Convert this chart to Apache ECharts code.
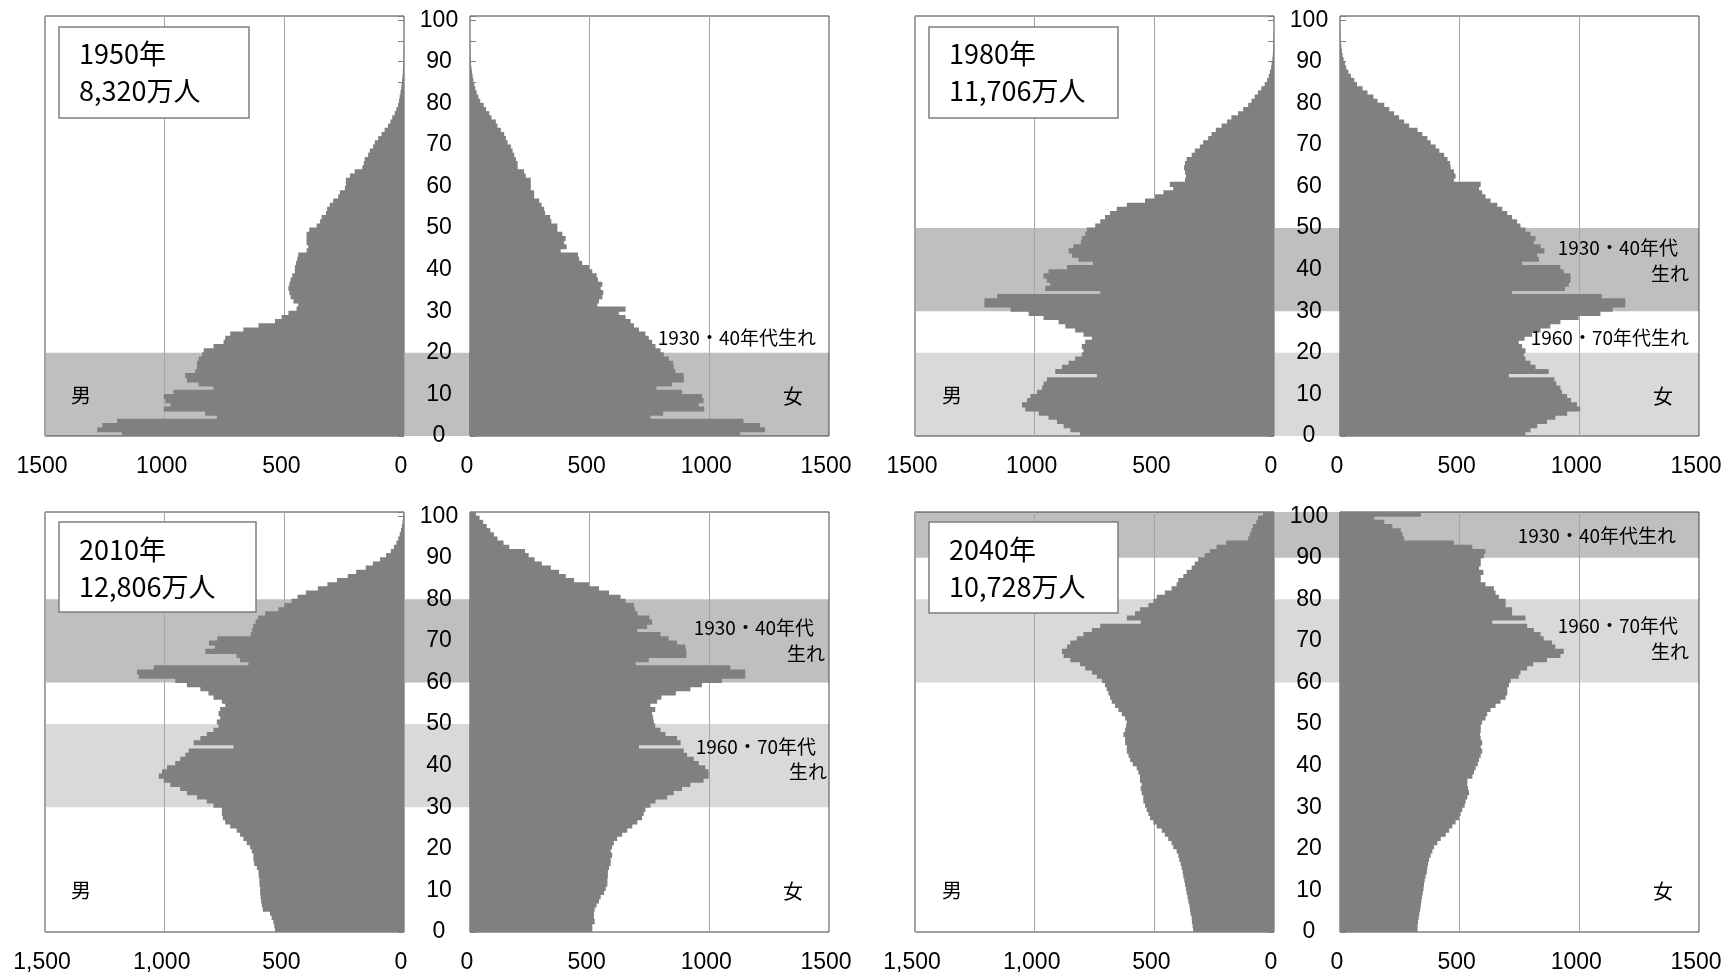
<!DOCTYPE html>
<html><head><meta charset="utf-8">
<script src="https://cdn.jsdelivr.net/npm/echarts@6/dist/echarts.min.js"></script>
<style>html,body{margin:0;padding:0;background:#fff}#c{width:1735px;height:974px}</style>
</head><body><div id="c"></div>
<script>
// ---------------- DATA ----------------
const ages = Array.from({length: 101}, (_, i) => String(i)); // 0..100 (100 = 100+)
const years = ['1950年', '1980年', '2010年', '2040年'];
const totals = ['8,320万人', '11,706万人', '12,806万人', '10,728万人'];

const male1950 = [1178,1282,1261,1199,782,831,1004,976,997,1004, 963,796,858,907,914,872,865,865,858,844, 837,796,754,747,726,671,608,539,511,483, 449,442,462,474,479,483,479,474,467,456, 456,451,446,442,407,400,407,407,407,396, 365,351,344,326,321,310,296,275,268,247, 243,243,226,206,174,168,164,150,143,129, 122,108,94,81,67,57,49,39,32,25, 21,18,15,12,10,8,6,5,4,3, 2,1.5,1,0.8,0.6,0.4,0.3,0.2,0.1,0.1, 0.1];
const female1950 = [1129,1233,1212,1143,754,807,979,956,976,969, 886,779,844,893,893,858,851,849,831,810, 796,775,761,747,733,706,685,671,650,622, 650,532,539,553,557,546,553,535,529,511, 497,469,456,451,379,404,393,400,386,365, 365,340,335,314,310,299,289,268,268,254, 254,254,233,226,199,199,192,185,178,171, 157,150,143,129,115,108,90,81,67,57, 43,35,28,22,18,14,11,8,6,4, 3,2,1.5,1,0.6,0.4,0.3,0.2,0.1,0.1, 0.1];
const male1980 = [810,851,879,907,942,983,1039,1053,1032,1018, 990,969,963,949,740,914,886,858,831,803, 796,803,789,761,796,831,872,900,963,1025, 1101,1210,1210,1157,726,956,935,949,963,942, 865,757,817,844,858,838,807,803,789,782, 747,726,706,685,657,615,539,497,462,421, 435,372,368,372,376,372,365,344,331,310, 296,275,261,243,219,196,178,150,129,108, 94,81,67,53,39,29,22,17,12,10, 7,5,4,3,2,1.5,1,0.6,0.4,0.2, 0.1];
const female1980 = [775,796,824,865,900,949,1004,990,965,949, 928,921,904,896,706,872,817,796,775,768, 775,761,747,771,803,838,879,921,997,1088, 1140,1192,1192,1094,719,940,956,963,963,935, 921,761,831,824,854,838,810,817,796,775, 754,740,719,699,678,657,629,608,594,581, 588,476,483,476,463,460,449,435,415,400, 379,365,344,324,289,268,247,226,206,185, 157,140,115,94,71,60,46,35,26,21, 15,11,8,6,4,3,2,1.5,1,0.5, 0.3];
const male2010 = [539,542,546,553,560,590,594,597,599,601, 601,604,604,607,608,615,626,629,629,636, 643,657,671,685,699,726,747,757,761,761, 796,824,865,907,935,976,1004,1025,1011,990, 956,935,914,900,713,879,851,824,796,775, 782,768,775,768,747,761,796,817,851,907, 956,1108,1115,1046,650,685,700,830,790,815, 780,640,635,630,620,610,580,525,500,470, 445,410,360,320,280,235,200,160,130,100, 75,55,42,32,24,18,13,9,6,4, 3];
const female2010 = [511,511,521,518,518,521,529,539,546,560, 567,574,574,576,576,581,588,588,594,588, 594,601,615,636,657,678,699,719,726,733, 754,775,824,851,886,921,976,997,997,983, 956,935,907,893,706,880,865,817,796,774, 768,765,761,774,754,782,800,860,921,969, 1053,1150,1150,1088,692,747,904,904,900,865, 830,796,699,740,761,750,700,690,685,650, 629,581,539,497,435,400,372,338,300,270, 245,230,164,140,115,100,85,70,55,40, 25];
const male2040 = [338,340,343,344,349,351,354,358,361,365, 368,372,375,379,382,386,390,396,400,407, 421,428,442,456,469,490,504,518,525,532, 539,546,546,553,557,553,560,560,567,574, 590,601,608,615,615,622,622,629,622,618, 615,622,636,650,664,678,685,692,699,706, 719,740,761,789,810,851,879,886,865,851, 824,796,761,726,557,615,581,560,525,504, 490,456,428,407,400,379,365,344,331,317, 290,268,240,200,108,101,94,88,74,67, 46];
const female2040 = [324,324,326,329,332,335,338,340,343,346, 349,351,354,358,363,365,368,372,379,386, 393,407,421,442,456,469,483,497,504,511, 521,525,532,539,535,532,532,553,560,567, 576,581,588,594,588,594,588,585,588,588, 594,608,615,629,650,671,692,699,699,706, 713,747,754,782,807,865,921,935,900,886, 851,838,810,782,636,775,719,719,692,692, 664,650,643,608,588,588,599,581,588,588, 601,608,553,476,268,261,254,219,185,143, 338];

// cohort bands (age from, age to)
const darkBands = [[[0, 20]], [[30, 50]], [[60, 80]], [[90, 101]]];   // 1930・40年代生れ
const lightBands = [[], [[0, 20]], [[30, 50]], [[60, 80]]];           // 1960・70年代生れ

const maleTickLabelsTop = ['0', '500', '1000', '1500'];
const maleTickLabelsBottom = ['0', '500', '1,000', '1,500'];
const femaleTickLabels = ['0', '500', '1000', '1500'];
const maleLabel = '男', femaleLabel = '女';
const notes = [
  ['1930・40年代生れ'],
  ['1930・40年代', '生れ', '1960・70年代生れ'],
  ['1930・40年代', '生れ', '1960・70年代', '生れ'],
  ['1930・40年代生れ', '1960・70年代', '生れ']
];

// ---------------- LAYOUT ----------------
const maleData = [male1950, male1980, male2010, male2040];
const femaleData = [female1950, female1980, female2010, female2040];
const W = 359, H = 420;
const panels = [
  {top: 16, mL: 45, fL: 470, box: [59, 27, 190, 91], tx: 79, l1: 54, l2: 91, mLab: [81, 395], fLab: [793, 396], maleTicks: maleTickLabelsTop,
   notePos: [[816, 337.5]]},
  {top: 16, mL: 915, fL: 1340, box: [929, 27, 189, 91], tx: 949, l1: 54, l2: 91, mLab: [952, 395], fLab: [1663, 396], maleTicks: maleTickLabelsTop,
   notePos: [[1678, 248], [1689, 274], [1689, 338]]},
  {top: 512, mL: 45, fL: 470, box: [59, 522, 197, 90], tx: 79, l1: 550, l2: 587, mLab: [81, 890], fLab: [793, 891], maleTicks: maleTickLabelsBottom,
   notePos: [[814, 628], [825, 654], [816, 747], [827, 772]]},
  {top: 512, mL: 915, fL: 1340, box: [929, 522, 189, 91], tx: 949, l1: 550, l2: 587, mLab: [952, 890], fLab: [1663, 891], maleTicks: maleTickLabelsBottom,
   notePos: [[1676, 536], [1678, 625.6], [1689, 652]]}
];

const NUM_FONT = 'Liberation Sans';
const JP_FONT = '"Noto Sans CJK JP"';
const BAR = '#808080';

const option = {animation: false, backgroundColor: '#ffffff', grid: [], xAxis: [], yAxis: [], series: [], graphic: []};

panels.forEach((p, i) => {
  const gB = option.grid.length;
  option.grid.push({left: p.mL, top: p.top, width: p.fL + W - p.mL, height: H, show: false});
  const gM = option.grid.length;
  option.grid.push({left: p.mL, top: p.top, width: W, height: H, show: true, borderColor: '#404040', borderWidth: 1, backgroundColor: 'transparent'});
  const gF = option.grid.length;
  option.grid.push({left: p.fL, top: p.top, width: W, height: H, show: true, borderColor: '#404040', borderWidth: 1, backgroundColor: 'transparent'});

  const xB = option.xAxis.length;
  option.xAxis.push({gridIndex: gB, type: 'value', min: 0, max: 1, show: false});
  const xLab = (labels) => ({margin: 19, fontSize: 23, fontFamily: NUM_FONT, color: '#000', padding: [0, 6, 0, 0],
    formatter: v => labels[Math.round(v / 500)]});
  const xM = option.xAxis.length;
  option.xAxis.push({gridIndex: gM, type: 'value', inverse: true, min: 0, max: 1500, interval: 500,
    axisLine: {show: false}, axisTick: {show: false},
    splitLine: {show: true, lineStyle: {color: '#a6a6a6', width: 1}}, axisLabel: xLab(p.maleTicks)});
  const xF = option.xAxis.length;
  option.xAxis.push({gridIndex: gF, type: 'value', min: 0, max: 1500, interval: 500,
    axisLine: {show: false}, axisTick: {show: false},
    splitLine: {show: true, lineStyle: {color: '#a6a6a6', width: 1}}, axisLabel: xLab(femaleTickLabels)});

  const yB = option.yAxis.length;
  option.yAxis.push({gridIndex: gB, type: 'value', min: 0, max: 101, show: false});
  const yMc = option.yAxis.length;
  option.yAxis.push({gridIndex: gM, type: 'category', data: ages, show: false});
  option.yAxis.push({gridIndex: gM, type: 'value', min: 0, max: 101, interval: 5, position: 'right',
    axisLine: {show: false}, axisTick: {show: true, inside: true, length: 6, lineStyle: {color: '#7f7f7f'}},
    axisLabel: {show: false}, splitLine: {show: false}});
  const yFc = option.yAxis.length;
  option.yAxis.push({gridIndex: gF, type: 'category', data: ages, show: false});
  option.yAxis.push({gridIndex: gF, type: 'value', min: 0, max: 101, interval: 5, position: 'left',
    axisLine: {show: false}, axisTick: {show: true, inside: true, length: 6, lineStyle: {color: '#7f7f7f'}},
    axisLabel: {show: true, margin: 31, align: 'center', fontSize: 23, fontFamily: NUM_FONT, color: '#000',
      formatter: v => (v % 10 === 0 ? String(v) : '')},
    splitLine: {show: false}});

  const bandSeries = (bands, color) => ({
    type: 'line', xAxisIndex: xB, yAxisIndex: yB, data: [[0, 0]], symbol: 'none', silent: true,
    lineStyle: {opacity: 0}, z: -10,
    markArea: {silent: true, z: -10, label: {show: false}, itemStyle: {color: color, borderWidth: 0},
      data: bands.map(b => [{yAxis: b[0]}, {yAxis: b[1]}])}
  });
  if (darkBands[i].length) option.series.push(bandSeries(darkBands[i], '#bfbfbf'));
  if (lightBands[i].length) option.series.push(bandSeries(lightBands[i], '#d9d9d9'));

  option.series.push({type: 'bar', xAxisIndex: xM, yAxisIndex: yMc, data: maleData[i], barWidth: '124%', silent: true,
    itemStyle: {color: BAR}});
  option.series.push({type: 'bar', xAxisIndex: xF, yAxisIndex: yFc, data: femaleData[i], barWidth: '124%', silent: true,
    itemStyle: {color: BAR}});

  // title box
  option.graphic.push({type: 'rect', z: 100, silent: true,
    shape: {x: p.box[0], y: p.box[1], width: p.box[2], height: p.box[3]},
    style: {fill: '#ffffff', stroke: '#7f7f7f', lineWidth: 1.5}});
  option.graphic.push({type: 'text', z: 101, silent: true,
    style: {text: years[i], x: p.tx, y: p.l1, fontSize: 27, fontFamily: JP_FONT, fill: '#000', align: 'left', verticalAlign: 'middle'}});
  option.graphic.push({type: 'text', z: 101, silent: true,
    style: {text: totals[i], x: p.tx, y: p.l2, fontSize: 27, fontFamily: JP_FONT, fill: '#000', align: 'left', verticalAlign: 'middle'}});
  // sex labels
  option.graphic.push({type: 'text', z: 101, silent: true,
    style: {text: maleLabel, x: p.mLab[0], y: p.mLab[1], fontSize: 20, fontFamily: JP_FONT, fill: '#000', align: 'center', verticalAlign: 'middle'}});
  option.graphic.push({type: 'text', z: 101, silent: true,
    style: {text: femaleLabel, x: p.fLab[0], y: p.fLab[1], fontSize: 20, fontFamily: JP_FONT, fill: '#000', align: 'center', verticalAlign: 'middle'}});
  // cohort notes
  notes[i].forEach((t, k) => {
    option.graphic.push({type: 'text', z: 101, silent: true,
      style: {text: t, x: p.notePos[k][0], y: p.notePos[k][1], fontSize: 19, fontFamily: JP_FONT, fill: '#000', align: 'right', verticalAlign: 'middle'}});
  });
});

const chart = echarts.init(document.getElementById('c'), null, {renderer: 'canvas', width: 1735, height: 974});
chart.setOption(option);
</script>
</body></html>
